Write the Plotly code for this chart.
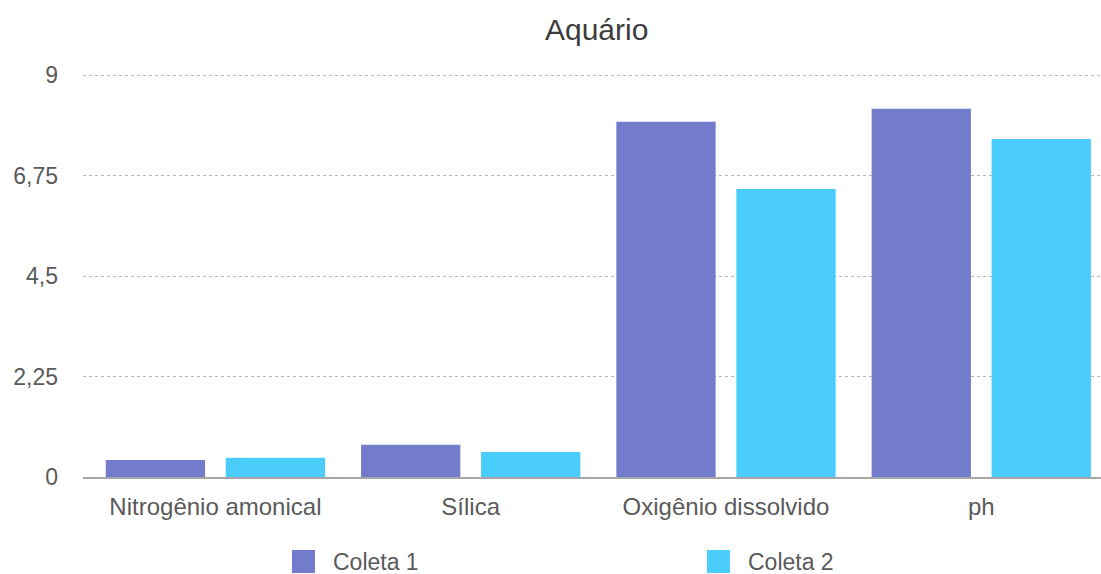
import plotly.graph_objects as go

# Water-quality readings of the aquarium, two samplings
categories = ["Nitrogênio amonical", "Sílica", "Oxigênio dissolvido", "ph"]
coleta_1 = [0.38, 0.72, 7.96, 8.25]
coleta_2 = [0.43, 0.56, 6.45, 7.57]
series_names = ["Coleta 1", "Coleta 2"]
series_colors = ["#737BCC", "#4ACDFA"]

y_tickvals = [0, 2.25, 4.5, 6.75, 9]
y_ticktext = ["0", "2,25", "4,5", "6,75", "9"]

FONT = "Liberation Sans, Arial, Helvetica, sans-serif"
W, H = 1101, 574
M_L, M_R, M_T, M_B = 83, 0, 73, 97

fig = go.Figure()
for name, vals, color in zip(series_names, [coleta_1, coleta_2], series_colors):
    fig.add_trace(go.Bar(
        x=categories, y=vals, name=name,
        marker=dict(color=color, line=dict(width=0)),
        showlegend=False, hoverinfo="x+y+name",
    ))

# Legend drawn as large colour squares with labels below the plot
def px_to_paper_x(px):
    return (px - M_L) / (W - M_L - M_R)

def px_to_paper_y(py):
    return (H - M_B - py) / (H - M_T - M_B)

legend_x = [292, 707]
shapes = []
annotations = []
for lx, name, color in zip(legend_x, series_names, series_colors):
    shapes.append(dict(
        type="rect", xref="paper", yref="paper",
        x0=px_to_paper_x(lx), x1=px_to_paper_x(lx + 23),
        y0=px_to_paper_y(573), y1=px_to_paper_y(550),
        fillcolor=color, line=dict(width=0), layer="above",
    ))
    annotations.append(dict(
        text=name, xref="paper", yref="paper",
        x=px_to_paper_x(lx + 39), y=px_to_paper_y(561.5),
        xanchor="left", yanchor="middle", showarrow=False,
        font=dict(family=FONT, size=23, color="#5a5a5a"),
    ))

fig.update_layout(
    width=W, height=H,
    margin=dict(l=M_L, r=M_R, t=M_T, b=M_B, pad=0),
    paper_bgcolor="white", plot_bgcolor="white",
    title=dict(text="Aquário", x=596.7 / W, xanchor="center",
               y=1 - 29 / H, yanchor="middle",
               font=dict(family=FONT, size=30, color="#3c3c3c")),
    barmode="group", bargap=0.06, bargroupgap=0.1725,
    shapes=shapes, annotations=annotations,
    font=dict(family=FONT, color="#5a5a5a"),
)

fig.update_xaxes(
    type="category", range=[-0.5187, 3.469],
    showgrid=False, showline=True, linecolor="#a6a6a6", linewidth=1.5,
    ticks="", tickfont=dict(family=FONT, size=24, color="#5a5a5a"),
    ticklabelstandoff=7, fixedrange=True,
)
fig.update_yaxes(
    range=[0, 9.05], tickvals=y_tickvals, ticktext=y_ticktext,
    showgrid=True, gridcolor="#b8b8b8", griddash="dot", gridwidth=1,
    zeroline=False, showline=False, ticks="",
    tickfont=dict(family=FONT, size=23, color="#5a5a5a"),
    ticklabelstandoff=24, fixedrange=True,
)

fig.write_html("out.html")
